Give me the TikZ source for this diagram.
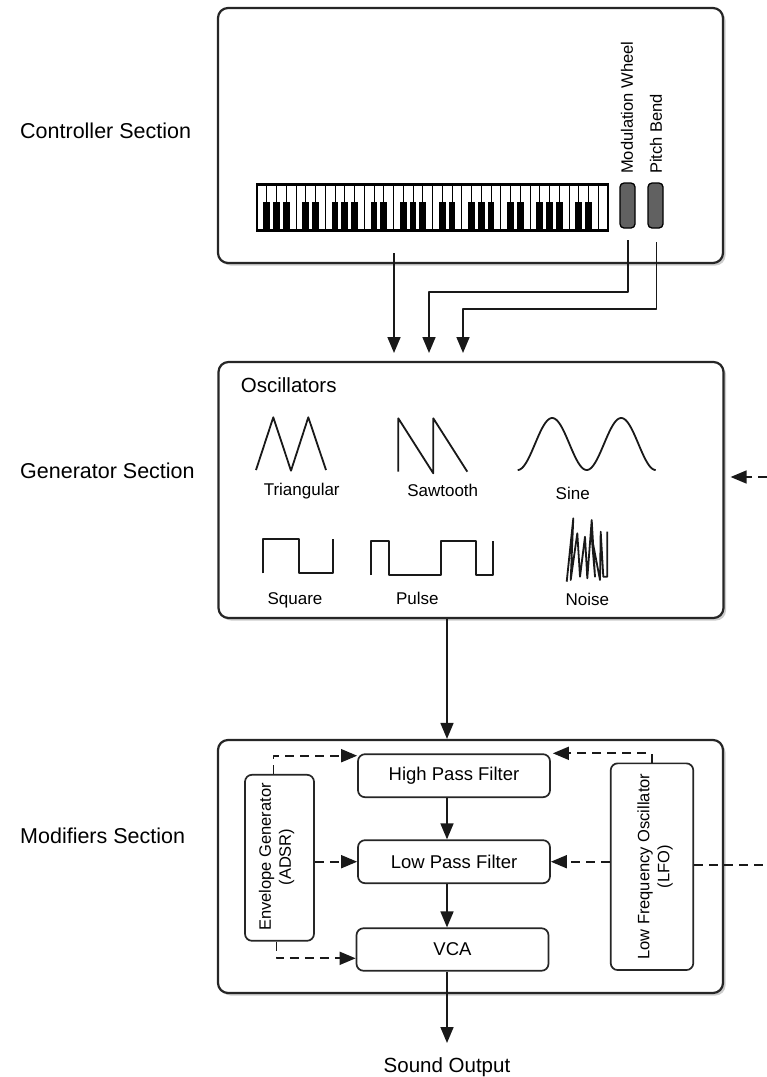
\documentclass[tikz,border=0pt]{standalone}
\usepackage{fontspec}
\setmainfont{Liberation Sans}
\usetikzlibrary{arrows.meta,shadows}
\begin{document}
\begin{tikzpicture}[x=1pt,y=-1pt,
  line join=round,
  section/.style={draw=black!85, line width=2.2pt, rounded corners=10pt, fill=white,
    drop shadow={shadow xshift=2.5pt, shadow yshift=-2.5pt, opacity=0.4}},
  ibox/.style={draw=black!85, line width=1.7pt, rounded corners=7pt, fill=white},
  wheel/.style={draw=black, line width=1.3pt, fill=black!62, rounded corners=4pt,
    minimum width=15pt, minimum height=45pt, inner sep=0pt},
  arr/.style={-{Triangle[length=16pt,width=13pt]}, line width=1.7pt, draw=black!90},
  darr/.style={arr, dash pattern=on 9pt off 6pt},
  dline/.style={line width=1.7pt, draw=black!90, dash pattern=on 9pt off 6pt},
  wave/.style={line width=1.8pt, draw=black!90},
  seclabel/.style={anchor=base west, font=\fontsize{21.5}{26}\selectfont, inner sep=0pt},
  wlabel/.style={anchor=base, font=\fontsize{17}{20}\selectfont, inner sep=0pt},
  blabel/.style={font=\fontsize{18.5}{22}\selectfont},
  vlabel/.style={rotate=90, align=center, font=\fontsize{16.5}{20}\selectfont, inner sep=0pt},
  ctllabel/.style={rotate=90, anchor=west, inner sep=0pt, font=\fontsize{16.5}{20}\selectfont},
]
\useasboundingbox (0,0) rectangle (767,1077);

% ---------- the three sections ----------
\node[section, minimum width=505pt, minimum height=255pt] (ctrl) at (470.5,135.5) {};
\node[section, minimum width=505pt, minimum height=256pt] (gen) at (471,490) {};
\node[section, minimum width=505pt, minimum height=253pt] (mod) at (470.5,866.5) {};

\node[seclabel] (lc) at (20,138) {Controller Section};
\node[seclabel] (lg) at (20,478) {Generator Section};
\node[seclabel] (lm) at (20,843) {Modifiers Section};

% ---------- keyboard ----------
\node[draw=black, line width=1.5pt, fill=white, minimum width=351pt, minimum height=45pt, inner sep=0pt] (kb) at (432.5,207.5) {};
\foreach \i in {1,...,35} \draw[line width=0.9pt] ({257+\i*9.75},185) -- ({257+\i*9.75},230);
\foreach \i in {0,...,34} {
  \pgfmathtruncatemacro\m{mod(\i,7)}
  \ifnum\m=3 \else\ifnum\m=6 \else
    \fill ({257+(\i+1)*9.75-3.4},202) rectangle ++(6.8,28);
  \fi\fi
}
\draw[line width=3pt] (kb.north west) -- (kb.north east);
\draw[line width=2pt] (kb.south west) -- (kb.south east);

% ---------- wheels ----------
\node[wheel] (mw) at (627.5,205.5) {};
\node[wheel] (pb) at (655.5,205.5) {};
\node[ctllabel] (mwl) at (627,174) {Modulation Wheel};
\node[ctllabel] (pbl) at (656,174) {Pitch Bend};

% ---------- controller to generator ----------
\coordinate (kbo) at (394,253);
\coordinate (mwo) at (628,240);
\coordinate (pbo) at (656.5,242);
\coordinate (h2) at (429,292);
\coordinate (h3) at (463,309);
\coordinate (g1) at (394,362);
\coordinate (g2) at (429,362);
\coordinate (g3) at (463,362);
\draw[arr, shorten >=9pt] (kbo) -- (g1);
\draw[arr, shorten >=9pt] (mwo) |- (h2) -- (g2);
\draw[arr, shorten >=9pt] (pbo) |- (h3) -- (g3);

% ---------- oscillators ----------
\node[anchor=base west, inner sep=0pt, font=\fontsize{20.5}{24}\selectfont] (osc) at (240.7,392.7) {Oscillators};

\draw[wave] (256,470) -- (273.3,417.3) -- (291,470.7) -- (308.3,417.3) -- (326,470);
\node[wlabel] (ltri) at (301.7,495.7) {Triangular};

\draw[wave] (398.3,471.7) -- (398.3,418.3) -- (433.3,473.3) -- (433.3,418.3) -- (467.3,471.7);
\node[wlabel] (lsaw) at (442.7,496.7) {Sawtooth};

\draw[wave] plot[domain=0:138, samples=120, smooth] ({\x+517.7}, {444+26*cos(\x/69*360)});
\node[wlabel] (lsin) at (572.7,499) {Sine};

\draw[wave] (263.3,573.3) -- (263.3,539) -- (299,539) -- (299,573.3) -- (333.3,573.3) -- (333.3,539);
\node[wlabel] (lsq) at (295,604) {Square};

\draw[wave] (371,575) -- (371,540.7) -- (389,540.7) -- (389,575) -- (440.7,575) -- (440.7,540.7)
  -- (476,540.7) -- (476,575) -- (492.7,575) -- (492.7,540.7);
\node[wlabel] (lpu) at (417.3,604) {Pulse};

\draw[wave] (566.7,581.7) -- (573.3,518.3) -- (570.7,580) -- (577.3,533.3) -- (580,576.7)
  -- (585,536.7) -- (587.3,578.3) -- (591.7,520) -- (595,576.7) -- (591.7,536.7)
  -- (600,580) -- (600.7,531.7) -- (603.3,576.7) -- (607.3,576.7) -- (607.3,531.7);
\node[wlabel] (lno) at (587.3,605.7) {Noise};

% LFO feed into the generator
\coordinate (lfoin) at (767,477);
\draw[darr, shorten >=6pt] (lfoin) -- (gen.east |- lfoin);

% ---------- generator to modifiers ----------
\coordinate (axis) at (447,0);
\draw[arr] (gen.south -| axis) -- (mod.north -| axis);

% ---------- modifiers ----------
\node[ibox, blabel, minimum width=192pt, minimum height=43pt] (hpf) at (454,775.7) {High Pass Filter};
\node[ibox, blabel, minimum width=192pt, minimum height=43pt] (lpf) at (454,861.7) {Low Pass Filter};
\node[ibox, blabel, minimum width=192pt, minimum height=42.5pt] (vca) at (452.5,949.5) {VCA};

\node[ibox, minimum width=69pt, minimum height=166pt] (env) at (279.5,857.8) {};
\node[vlabel] (envt) at (276.7,857) {Envelope Generator\\(ADSR)};
\node[ibox, minimum width=82.6pt, minimum height=206.7pt] (lfo) at (652,866.7) {};
\node[vlabel] (lfot) at (655,866.7) {Low Frequency Oscillator\\(LFO)};

\draw[arr] (hpf.south -| axis) -- (lpf.north -| axis);
\draw[arr] (lpf.south -| axis) -- (vca.north -| axis);
\coordinate (outtip) at (447,1043);
\draw[arr] (vca.south -| axis) -- (outtip);
\node[anchor=base, inner sep=0pt, font=\fontsize{20.5}{24}\selectfont] (out) at (447,1072.5) {Sound Output};

\draw[darr] ([xshift=-6pt]env.north) |- ([yshift=20pt]hpf.west);
\draw[darr] (env.east |- lpf.west) -- (lpf.west);
\draw[darr] ([xshift=-3pt]env.south) |- ([yshift=-8.8pt]vca.west);
\draw[darr, shorten >=2pt] (lfo.north) |- ([yshift=22.4pt]hpf.east);
\draw[darr] (lfo.west |- lpf.east) -- (lpf.east);
\coordinate (lfoout) at (767,865);
\draw[dline] (lfo.east |- lfoout) -- (lfoout);
\end{tikzpicture}
\end{document}
